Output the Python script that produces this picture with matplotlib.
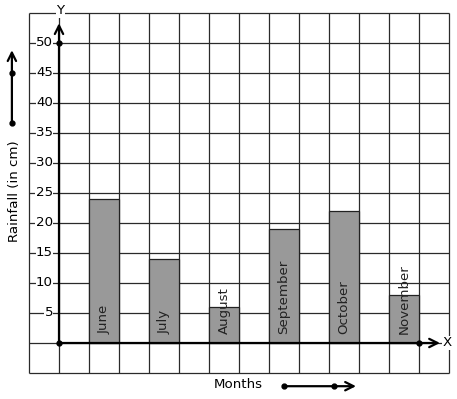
import numpy as np
import matplotlib.pyplot as plt

months = ["June", "July", "August", "September", "October", "November"]
rainfall = [24, 14, 6, 19, 22, 8]
bar_pos = [1.5, 3.5, 5.5, 7.5, 9.5, 11.5]
y_ticks = [5, 10, 15, 20, 25, 30, 35, 40, 45, 50]

plt.rcParams['font.family'] = 'DejaVu Sans'
fs = 9.6

fig = plt.figure(figsize=(4.57, 3.99), dpi=100)
ax = fig.add_axes([0, 0, 1, 1])
# one grid cell = 30 px: 1 unit in x, 5 units in y
ax.set_xlim(-59 / 30, (457 - 59) / 30)
ax.set_ylim(-(399 - 343) / 6, 343 / 6)
ax.axis('off')

# grid
gc = '#2a2a2a'
ax.vlines(np.arange(-1, 14), -5, 55, colors=gc, lw=0.9, zorder=1)
ax.hlines(np.arange(-5, 56, 5), -1, 13, colors=gc, lw=0.9, zorder=1)

# bars
ax.bar(bar_pos, rainfall, width=1, color='#999999', edgecolor='#222222',
       lw=0.9, zorder=2)
for x, name in zip(bar_pos, months):
    ax.text(x, 1.5, name, rotation=90, ha='center', va='bottom',
            fontsize=fs, color='#222222', zorder=4)

# axes with arrows
arrow = dict(arrowstyle='->', lw=1.6, color='black',
             shrinkA=0, shrinkB=0, mutation_scale=15)
ax.annotate('', xy=(12.7, 0), xytext=(0, 0), zorder=3, arrowprops=arrow)
ax.annotate('', xy=(0, 53.3), xytext=(0, 0), zorder=3, arrowprops=arrow)
ax.plot([0, 0, 12], [0, 50, 0], 'o', color='black', ms=3.5, zorder=4)
ax.text(12.95, 0, 'X', ha='center', va='center', fontsize=fs,
        bbox=dict(fc='white', ec='none', pad=0.5), zorder=4)
ax.text(0.05, 55.4, 'Y', ha='center', va='center', fontsize=fs,
        bbox=dict(fc='white', ec='none', pad=0.5), zorder=4)

for t in y_ticks:
    ax.text(-0.2, t, str(t), ha='right', va='center', fontsize=fs,
            bbox=dict(fc='white', ec='none', pad=0.3), zorder=4)

# y label with arrow
ax.text(-1.5, 25.3, 'Rainfall (in cm)', rotation=90, ha='center',
        va='center', fontsize=fs)
ax.annotate('', xy=(-1.57, 48.8), xytext=(-1.57, 36.7), arrowprops=arrow)
ax.plot([-1.57, -1.57], [45, 36.7], 'o', color='black', ms=3.5)

# x label with arrow
ax.text(5.97, -7, 'Months', ha='center', va='center', fontsize=fs)
ax.annotate('', xy=(9.9, -7.2), xytext=(7.5, -7.2), arrowprops=arrow)
ax.plot([7.5, 9.17], [-7.2, -7.2], 'o', color='black', ms=3.5)

fig.savefig('out.png', dpi=100)
